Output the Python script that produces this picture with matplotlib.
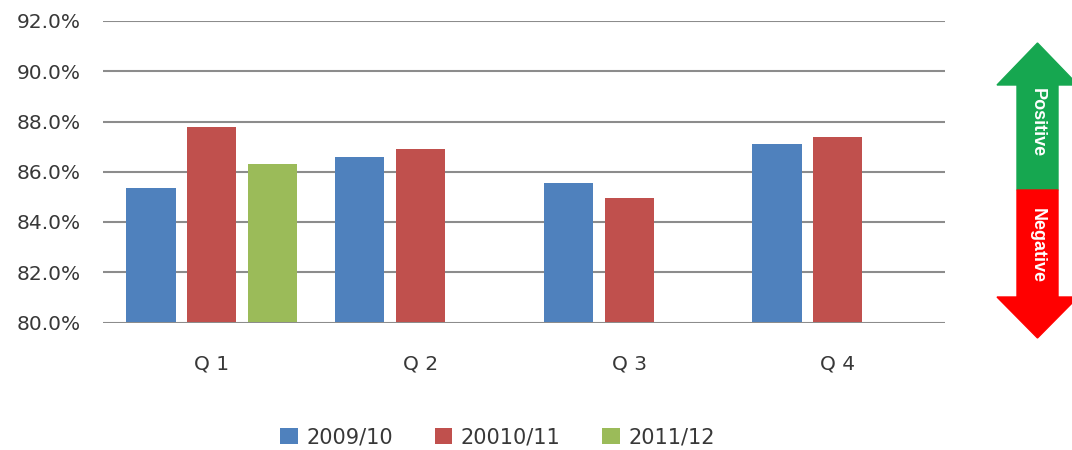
import matplotlib.pyplot as plt
import numpy as np
from matplotlib.patches import Polygon

quarters = ["Q 1", "Q 2", "Q 3", "Q 4"]
series = ["2009/10", "20010/11", "2011/12"]
s2009 = [85.35, 86.6, 85.55, 87.1]
s2010 = [87.8, 86.9, 84.95, 87.4]
s2011 = [86.3, np.nan, np.nan, np.nan]
colors = ["#4F81BD", "#C0504D", "#9BBB59"]

plt.rcParams['font.family'] = ['DejaVu Sans']

fig = plt.figure(figsize=(10.72, 4.5), dpi=100)
ax = fig.add_axes([103 / 1072, (450 - 322.5) / 450, 842 / 1072, 301.5 / 450])

x = np.arange(len(quarters))
step = 0.292
width = 0.235
for i, (vals, col, name) in enumerate(zip([s2009, s2010, s2011], colors, series)):
    ax.bar(x + (i - 1) * step, np.array(vals) - 80, bottom=80, width=width,
           color=col, label=name, zorder=3)

ax.set_xlim(-0.522, 3.513)
ax.set_ylim(80, 92)
ax.set_yticks(np.arange(80, 92.1, 2))
ax.set_yticklabels([f"{v:.1f}%" for v in np.arange(80, 92.1, 2)])
ax.set_xticks(x)
ax.set_xticklabels(quarters)
ax.grid(axis='y', color='#8C8C8C', linewidth=1.5, zorder=0)
for s in ax.spines.values():
    s.set_visible(False)
ax.tick_params(axis='both', length=0, labelsize=14.5, colors='#383838')
ax.tick_params(axis='x', pad=23)
ax.tick_params(axis='y', pad=16)

fig.legend(loc='center', bbox_to_anchor=(0.464, 0.028), ncol=3, frameon=False,
           fontsize=15, handlelength=0.85, handleheight=0.85, handletextpad=0.4,
           columnspacing=2.0, labelcolor='#383838')

# double arrow at the right
ov = fig.add_axes([0, 0, 1, 1])
ov.set_xlim(0, 1072)
ov.set_ylim(450, 0)
ov.axis('off')
ov.patch.set_alpha(0)
green = [(1017, 190), (1017, 85), (997, 85), (1037.5, 43), (1078, 85), (1058, 85), (1058, 190)]
red = [(1017, 190), (1017, 297), (997, 297), (1037.5, 338), (1078, 297), (1058, 297), (1058, 190)]
ov.add_patch(Polygon(green, closed=True, color='#16A750'))
ov.add_patch(Polygon(red, closed=True, color='#FF0000'))
ov.text(1037, 123, "Positive", rotation=-90, ha='center', va='center', color='white',
        fontsize=13, fontweight='bold', family='Liberation Sans')
ov.text(1037, 245, "Negative", rotation=-90, ha='center', va='center', color='white',
        fontsize=13, fontweight='bold', family='Liberation Sans')

fig.savefig("out.png", dpi=100)
